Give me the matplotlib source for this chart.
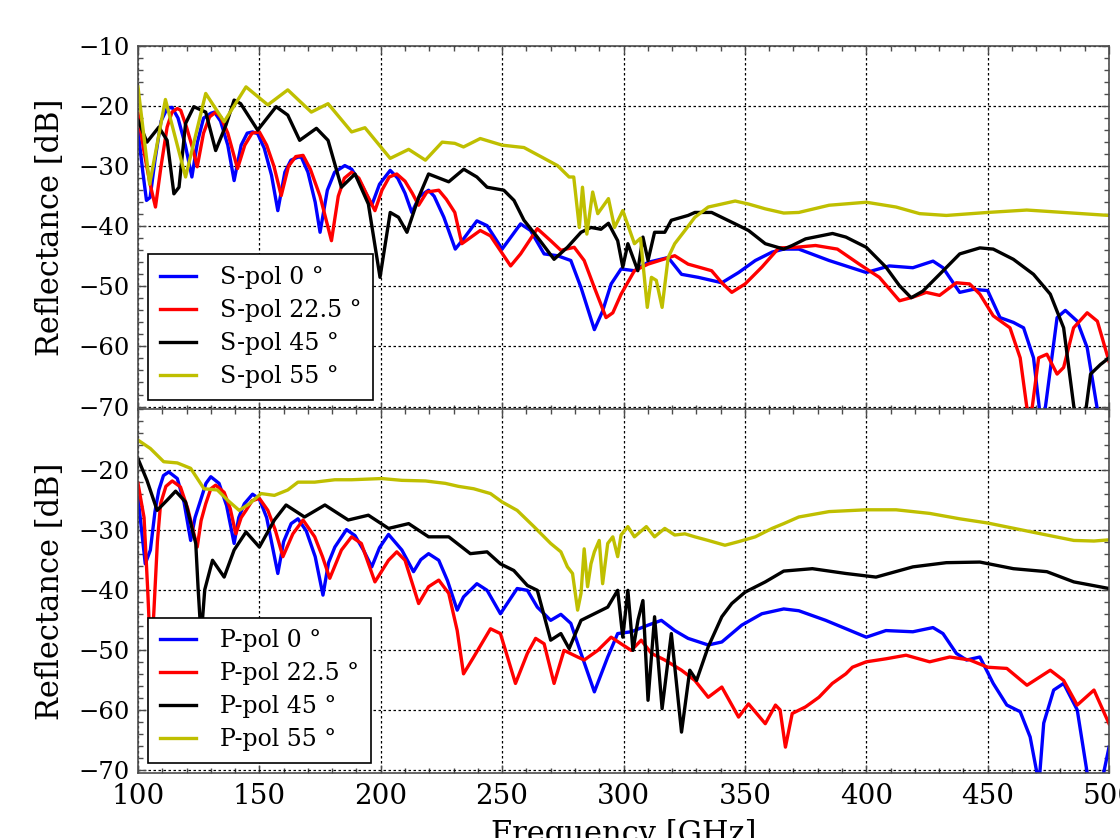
import matplotlib
matplotlib.use('Agg')
import matplotlib.pyplot as plt
from matplotlib.ticker import MultipleLocator

plt.rcParams['font.family'] = ['DejaVu Serif']
plt.rcParams['mathtext.fontset'] = 'dejavuserif'

# ---------------- data (frequency GHz, reflectance dB) ----------------
s_pol_0 = [(100, -24), (102, -31), (103.5, -35.7), (105, -35.2), (107, -29), (109.5, -22.5), (112, -20.4),
           (114, -20.2), (116.5, -22), (119.5, -26.5), (122.2, -31.8), (124.5, -26), (127, -22),
           (130, -21.2), (131.5, -21), (134, -22.5), (137, -26.5), (139.6, -32.4), (142.5, -26.5),
           (145, -24.5), (147.2, -24.3), (149.3, -24.6), (152, -27), (155, -31.5), (157.6, -37.4),
           (160.5, -31), (163, -29), (165.9, -28.5), (167.3, -28.5), (170, -31), (173, -36), (175, -41),
           (178, -34), (181, -31), (185.2, -29.9), (188, -30.5), (192, -33), (196.3, -36.5), (199.5, -33),
           (203.9, -30.7), (207, -32), (210, -34.5), (212.8, -37.7), (216, -35), (219.7, -34), (222, -35),
           (226, -38.5), (230.7, -43.8), (234.1, -42.1), (239.6, -39.1), (243.8, -39.9),
           (250, -43.8), (257.6, -39.6), (261.7, -40.7), (267.3, -44.6), (272.8, -44.9), (278.3, -45.7),
           (282.5, -50.2), (288, -57.2), (291.4, -54.1), (294.9, -49.6), (299, -47.1), (304.5, -47.4),
           (310.1, -46), (318.4, -45.2), (323.9, -48), (330.8, -48.5), (340.5, -49.4), (347.4, -47.7),
           (354.3, -45.7), (361.2, -44.3), (366, -43.8), (372.2, -43.8), (384.7, -45.7), (400, -47.7),
           (409.5, -46.6), (419.2, -46.9), (427.5, -45.8), (431.6, -46.9), (438.5, -51), (444.1, -50.5),
           (450, -50.7), (455.1, -55.2), (460.6, -56), (464.8, -56.9), (468.9, -61.9), (471.5, -71),
           (472.5, -75), (473.5, -71), (478.6, -55.2), (482, -54), (486.9, -55.8), (491, -60.2),
           (495.2, -70.5), (500, -78)]

s_pol_22 = [(100, -21.2), (102.4, -27.4), (105, -33), (107.2, -36.8), (109.5, -30), (112, -23.5),
            (114, -21), (116.2, -20.4), (117.6, -20.7), (120, -23.5), (122.5, -27), (124.4, -30.1),
            (127, -24.5), (129.5, -21.8), (132, -21), (134.1, -21.8), (137, -24.5), (141, -30.4),
            (144, -26.5), (147, -24.5), (150, -24.3), (153, -26.5), (156, -30), (159, -34.9), (162, -30),
            (165, -28.4), (168, -28.2), (171, -30.5), (175, -35), (179.7, -42.4), (182.5, -35), (185, -32),
            (188, -31), (191, -32), (194, -34.5), (197.6, -37.4), (200.5, -34), (203.5, -31.8),
            (206.6, -31.3), (210, -32.5), (213, -34.5), (215.6, -36.5), (219, -34.3), (223.9, -34),
            (227, -35.5), (230.5, -37.7), (233.4, -42.9), (235.5, -42.3), (241, -40.7), (245.2, -41.6),
            (253.5, -46.6), (257.6, -44.6), (264.5, -40.4), (270, -42.4), (274.2, -44), (279.7, -43.5),
            (283.8, -45.7), (288, -50.2), (292.8, -55.2), (295.6, -54.4), (299, -51.3), (304.5, -47.4),
            (310.1, -46.3), (321.1, -44.9), (326.6, -46.3), (336.3, -47.4), (340.5, -49.4), (344.6, -51),
            (350.1, -49.6), (357, -46.8), (364, -43.6), (370.9, -43.5), (379.1, -43.2), (388.1, -43.8),
            (397.1, -46.3), (405.4, -48.5), (413.7, -52.4), (419.2, -51.8), (424.7, -51), (430.2, -51.5),
            (437.1, -49.4), (442.6, -49.6), (446.8, -51.3), (452.3, -54.9), (459.2, -56.9), (463.4, -61.9),
            (466.1, -70), (467.2, -71.5), (468.4, -70), (471, -61.9), (474.4, -61.3), (478.6, -64.6),
            (481.3, -63.5), (485.4, -56.9), (491, -54.4), (495.2, -55.8), (500, -62.5)]

s_pol_45 = [(100, -22.3), (103.7, -26), (108.6, -23.5), (112, -25.7), (114.8, -34.6), (116.9, -33.5),
            (119.6, -22.9), (123, -20.1), (127.9, -21), (132, -27.4), (136.2, -23.2), (139.6, -19),
            (142.3, -19.6), (149.3, -24), (156.9, -20.1), (161.7, -21.5), (166.6, -25.7), (173.5, -23.7),
            (178.3, -25.7), (183.8, -33.5), (189.4, -31.3), (194.9, -36.3), (199.7, -48.5), (203.9, -37.7),
            (207.3, -38.5), (210.8, -41), (215.6, -35.2), (219.7, -31.3), (228, -32.6), (234.2, -30.5),
            (239.6, -31.8), (243.8, -33.5), (250.7, -34), (254.9, -35.7), (259, -39), (264.5, -41.8),
            (271.4, -45.5), (276.9, -43.5), (282.5, -41), (286.6, -40.2), (290.7, -40.5), (293.8, -39.5),
            (297.6, -42.4), (299.7, -46.8), (301.8, -42.9), (305.9, -47.4), (308, -41.8), (310.1, -45.7),
            (312.8, -41), (317, -41), (319.7, -39), (326.6, -38.2), (329.4, -37.7), (336.3, -37.7),
            (346, -39.6), (351.5, -40.7), (358.4, -42.9), (366, -43.8), (369.5, -43.2), (375, -42.1),
            (386.1, -41.2), (391.6, -41.8), (400, -43.5), (408.1, -46.8), (413.7, -49.9), (418.5, -51.9),
            (423.3, -50.8), (430.2, -48), (438.5, -44.6), (446.8, -43.6), (452.3, -43.8), (460.6, -45.5),
            (468.9, -48), (475.8, -51.3), (481.3, -56.9), (485.5, -70), (487.5, -78), (490, -72),
            (492.4, -64.6), (496.5, -63), (500, -61.9)]

s_pol_55 = [(100, -16.8), (104.8, -33), (111.3, -18.9), (119.6, -31.8), (127.9, -17.9), (135.5, -22.6),
            (144.5, -16.8), (153.5, -19.8), (161.7, -17.3), (171.4, -21), (178.3, -19.6), (188, -24.3),
            (193.5, -23.6), (203.9, -28.7), (211.5, -27.2), (218.4, -29), (225.3, -26), (230.5, -26.2),
            (234.1, -26.8), (241, -25.4), (250, -26.5), (259, -26.9), (267.3, -28.7), (272.8, -29.9),
            (277.6, -31.8), (279.5, -31.8), (281.8, -40.2), (283.1, -33.5), (284.9, -41.3), (287.3, -34.3),
            (289.4, -37.9), (293.8, -35.4), (296.3, -40.2), (299.7, -37.4), (304.5, -42.9), (307, -42),
            (309.8, -53.5), (311.5, -48.5), (313.5, -49), (315.9, -53.5), (318.4, -45.2), (321.1, -42.9),
            (325.3, -40.7), (329.4, -38.5), (334.9, -36.8), (340.5, -36.3), (346, -35.8), (351.5, -36.3),
            (358.4, -37.1), (366, -37.8), (372.2, -37.7), (384.7, -36.5), (400, -36), (412.3, -36.8),
            (422, -37.9), (433, -38.2), (450, -37.7), (466.1, -37.3), (481.3, -37.7), (500, -38.2)]

p_pol_0 = [(100, -24.6), (103, -35.7), (105.1, -33.4), (107, -27), (108.6, -23.4), (110.5, -21),
           (112.7, -20.4), (116.2, -21.5), (119, -25.5), (121.7, -31.8), (123.5, -28), (125.8, -25.1),
           (128, -22.3), (130, -21.2), (133.4, -22.3), (136.5, -26), (139.6, -32.3), (141.5, -28),
           (143.8, -25.7), (147.2, -24.1), (150, -24.9), (153, -28), (157.6, -37.3), (160, -32),
           (163.1, -29), (165.9, -28.2), (169.3, -30.2), (173, -34.5), (176.2, -40.9), (178.5, -35.5),
           (181.1, -32.9), (185.9, -30), (189.4, -31), (193, -33.5), (196.3, -36.2), (199.5, -33),
           (203.2, -30.8), (208.7, -33.4), (213.5, -37), (216.5, -35), (219.7, -34), (223.9, -35.1),
           (227.5, -38.5), (231.5, -43.4), (234.1, -41.2),
           (239.6, -39), (243.8, -40.1), (249.3, -44), (256.2, -39.8), (260.4, -40.1), (264.5, -42.9),
           (270, -45.1), (274.2, -44.1), (278.3, -45.6), (282.5, -50.6), (288, -57), (293.5, -51.2),
           (297.6, -47.3), (303.2, -47), (310.1, -45.9), (315.6, -45.1), (321.1, -46.8), (326.6, -48.1),
           (334.9, -49.2), (340.5, -48.7), (348.7, -45.9), (357, -44), (366, -43.2), (372.2, -43.5),
           (383.3, -45.1), (400, -47.9), (408.1, -46.8), (419.2, -47), (427.5, -46.3), (431.6, -47.3),
           (437.1, -50.6), (441.3, -51.7), (446.8, -51.2), (452.3, -55.6), (457.9, -59.2), (463.4, -60.3),
           (467.5, -64.5), (470.3, -70.5), (471.3, -71.5), (473.1, -62.2), (477.2, -56.7), (481.3, -55.6),
           (486.9, -60), (491, -70.5), (494, -74), (497, -72), (500, -66.2)]

p_pol_22 = [(100, -22.3), (102.5, -28), (104, -40), (105.3, -52), (106.5, -44), (108, -32),
            (109.3, -25.7), (111.5, -22.8), (114.1, -21.9), (117.5, -22.9), (120.5, -26.5), (124.4, -32.9),
            (126, -28.5), (127.9, -25.7), (130, -23.2), (132, -22.6), (135.5, -23.8), (138, -26.5),
            (140.3, -30.7), (142.5, -28), (144.5, -26.8), (147, -25.2), (150, -24.8), (153.5, -26.8),
            (156.5, -30), (159.7, -34.5), (163.8, -30.7), (168, -28.4), (172.8, -31.2), (176, -34.5),
            (179, -38.1), (183.8, -33.4), (188, -31.2),
            (192, -32.3), (197.6, -38.7), (203.2, -35.1), (206.6, -33.7), (210, -35.1), (215.6, -42.3),
            (219.7, -39.5), (223.9, -38.4), (228, -40.6), (231.5, -46.8), (234.1, -54), (238.3, -51.2),
            (245.2, -46.5), (249.3, -47.3), (255.5, -55.6), (260.4, -50.6), (263.8, -48.1), (267.3, -49),
            (271.4, -55.6), (275.5, -50.1), (281.1, -51.2), (283.8, -51.7), (289.4, -50.1), (294.9, -47.9),
            (299, -49), (303.2, -50.1), (307.3, -48.4), (311.5, -50.6), (317, -51.7), (323.9, -53.4),
            (329.4, -55.1), (334.9, -57.9), (340.5, -56.2), (347.4, -61.2), (351.5, -59), (358.4, -62.3),
            (362.6, -59.2), (364.5, -60), (366.7, -66.2), (369.5, -60.6), (375, -59.5), (380.5, -57.9),
            (386, -55.6), (391.6, -54), (394.3, -52.9), (400, -52), (408.1, -51.5), (416.4, -50.9),
            (426.1, -52), (434.4, -51.2), (442.7, -51.7), (450, -52.9), (457.9, -53.1), (466.2, -55.9),
            (475.8, -53.4), (481.3, -55.1), (486.9, -59.2), (493.8, -56.7), (500, -62.3)]

p_pol_45 = [(100, -18.2), (103.7, -21.8), (107.9, -26.8), (112, -25.1), (115.5, -23.6), (119.6, -25.4),
            (123.8, -32.3), (124.8, -40), (126, -48), (127.5, -40), (130.7, -35.1), (135.5, -37.9),
            (139.6, -33.4), (144.5, -30.4), (150, -32.9), (156.2, -28.4), (161, -25.9), (168.6, -27.9),
            (177, -25.9), (186.6, -28.4), (194.9, -27.6), (203.2, -29.8), (211.5, -29), (219.7, -31.2),
            (228, -31.2), (236.9, -34), (243.8, -33.7), (249.3, -35.7), (254.8, -36.8), (260.4, -39.3),
            (264.5, -40.1), (270, -48.4), (274.2, -47.3), (277.6, -49.8), (282.5, -45.1), (288, -44),
            (293.5, -42.9), (297.6, -40.1), (299.7, -47.9), (301.8, -40.1), (303.9, -50.1), (306, -45),
            (308, -41.8), (310.1, -58.4), (312.8, -44.5), (315.9, -59.8), (319.7, -47.3), (323.9, -63.7),
            (327.3, -53.4), (330.1, -55.1), (334.9, -49.5), (340.5, -44.5), (344.6, -42.3), (350.1, -40.4),
            (358.4, -38.7), (366, -36.9), (377.8, -36.5), (391.6, -37.3), (404, -37.9), (419.2, -36.2),
            (433, -35.5), (446.8, -35.4), (460.6, -36.5), (474.4, -37), (485.5, -38.7), (500, -39.8)]

p_pol_55 = [(100, -15.1), (105.1, -16.5), (110.6, -18.7), (116.2, -18.9), (121.7, -19.8), (127.2, -23.2),
            (132.7, -23.4), (136.9, -25.1), (141.7, -26.8), (145.9, -25.7), (150.7, -24), (156.2, -24.3),
            (161.7, -23.4), (165.9, -22.1), (172.8, -22.1), (181.1, -21.7), (188, -21.7), (200.4, -21.5),
            (208.7, -21.8), (218.4, -21.9), (226.6, -22.3), (232, -22.8), (238.3, -23.2), (245.2, -24),
            (250, -25.4), (256.2, -26.8), (263.1, -29.5), (270, -32.3), (274.2, -33.7), (276.9, -36.2),
            (279, -37.3), (281.1, -43.4), (282.5, -40.6), (283.8, -33.2), (285.2, -39.5), (286.6, -35.7),
            (288, -33.7), (290, -31.8), (291.4, -39), (293.5, -32.3), (295.6, -31.2), (297.6, -34.5),
            (299, -30.9), (301.8, -29.5), (304.5, -31.2), (309.4, -29.5), (312.8, -31.2), (317, -29.8),
            (321.1, -30.9), (325.3, -30.7), (329.4, -31.2), (334.9, -31.8), (341.8, -32.6), (347.4, -32),
            (354.3, -31.2), (361.2, -29.8), (366, -29), (372.2, -27.9), (384.7, -27), (400, -26.7),
            (412.3, -26.7), (426.1, -27.3), (438.5, -28.2), (450, -28.9), (463.4, -30), (474.4, -30.9),
            (485.5, -31.8), (493.8, -31.9), (500, -31.7)]

olive = (0.75, 0.75, 0)
top_series = [(s_pol_0, 'S-pol 0 °', 'b'),
              (s_pol_22, 'S-pol 22.5 °', 'r'),
              (s_pol_45, 'S-pol 45 °', 'k'),
              (s_pol_55, 'S-pol 55 °', olive)]
bottom_series = [(p_pol_0, 'P-pol 0 °', 'b'),
                 (p_pol_22, 'P-pol 22.5 °', 'r'),
                 (p_pol_45, 'P-pol 45 °', 'k'),
                 (p_pol_55, 'P-pol 55 °', olive)]

x_ticks = [100, 150, 200, 250, 300, 350, 400, 450, 500]
top_yticks = [-70, -60, -50, -40, -30, -20, -10]
bottom_yticks = [-70, -60, -50, -40, -30, -20]

# ---------------- figure ----------------
fig = plt.figure(figsize=(11.2, 8.38), dpi=100)
ax1 = fig.add_axes([0.1232, 0.5113, 0.8670, 0.4338])
ax2 = fig.add_axes([0.1232, 0.0776, 0.8670, 0.4338], sharex=ax1)

for ax, series, yt in ((ax1, top_series, top_yticks), (ax2, bottom_series, bottom_yticks)):
    for data, label, color in series:
        f = [p[0] for p in data]
        v = [p[1] for p in data]
        ax.plot(f, v, color=color, lw=2.4, label=label, solid_joinstyle='round')
    ax.set_xlim(100, 500)
    ax.set_ylim(-70.5, -10)
    ax.set_xticks(x_ticks)
    ax.set_yticks(yt)
    ax.xaxis.set_minor_locator(MultipleLocator(10))
    ax.yaxis.set_minor_locator(MultipleLocator(2))
    ax.grid(True, which='major', color='k', linestyle=(0, (2, 2)), linewidth=0.9)
    ax.tick_params(which='both', direction='in', top=True, right=True, color='0.3')
    ax.tick_params(which='major', length=6, width=1)
    ax.tick_params(which='minor', length=3.5, width=1)
    ax.tick_params(axis='y', labelsize=17.5, pad=6)
    ax.tick_params(axis='x', labelsize=20, pad=7)
    for sp in ax.spines.values():
        sp.set_color('0.3')
        sp.set_linewidth(1.2)
    ax.set_ylabel('Reflectance [dB]', fontsize=22, labelpad=9)
    leg = ax.legend(loc='lower left', fontsize=17, handlelength=1.55, handletextpad=1.0,
                    borderpad=0.5, labelspacing=0.42, borderaxespad=0.42,
                    fancybox=False, framealpha=1, edgecolor='k')
    leg.get_frame().set_linewidth(1.2)

ax1.tick_params(labelbottom=False)
ax2.set_xlabel('Frequency [GHz]', fontsize=22, labelpad=7)

fig.savefig('out.png', dpi=100)
